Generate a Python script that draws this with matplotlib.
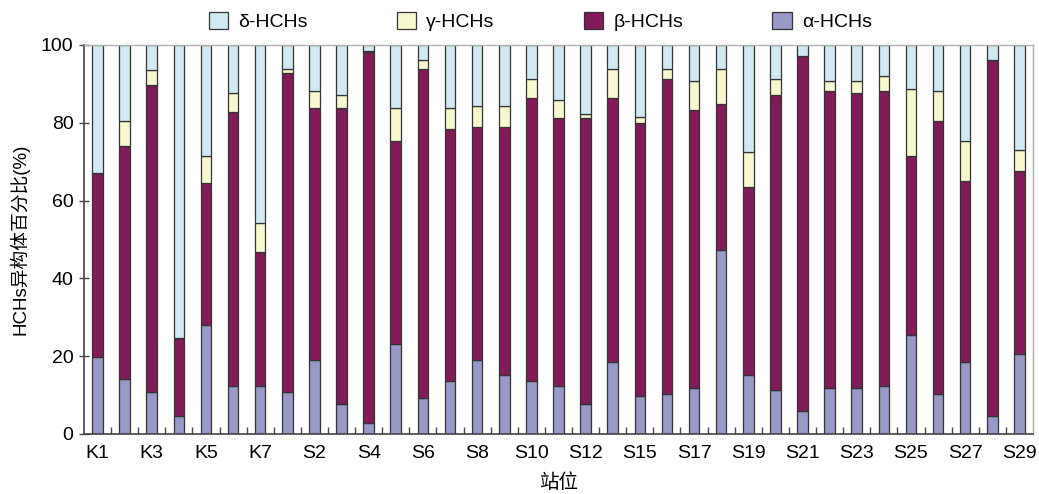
import numpy as np
import matplotlib
matplotlib.use("Agg")
import matplotlib.pyplot as plt

plt.rcParams['font.family'] = ['Liberation Sans', 'Noto Sans CJK SC', 'DejaVu Sans']

stations = ["K1", "K2", "K3", "K4", "K5", "K6", "K7",
            "S1", "S2", "S3", "S4", "S5", "S6", "S7", "S8", "S9", "S10", "S11", "S12",
            "S14", "S15", "S16", "S17", "S18", "S19", "S20", "S21", "S22", "S23",
            "S24", "S25", "S26", "S27", "S28", "S29"]

# isomer shares, %
alpha = [19.9, 14.1, 10.9, 4.5, 28.0, 12.4, 12.4,
         10.9, 18.9, 7.6, 2.7, 23.1, 9.2, 13.5, 18.9, 15.2, 13.5, 12.4, 7.6,
         18.4, 9.8, 10.3, 11.9, 47.3, 15.2, 11.4, 6.0, 11.9, 11.9,
         12.4, 25.4, 10.3, 18.4, 4.5, 20.6]
beta = [47.3, 59.9, 78.8, 20.3, 36.4, 70.3, 34.5,
        82.0, 64.8, 76.1, 95.5, 52.1, 84.7, 64.8, 59.9, 63.6, 72.9, 68.7, 73.5,
        68.0, 70.2, 81.0, 71.3, 37.6, 48.2, 75.7, 91.2, 76.2, 75.7,
        75.7, 46.1, 70.2, 46.6, 91.6, 47.0]
gamma = [0.0, 6.5, 3.8, 0.0, 7.1, 4.9, 7.4,
         1.0, 4.5, 3.4, 0.2, 8.5, 2.2, 5.4, 5.4, 5.4, 4.9, 4.8, 1.2,
         7.5, 1.6, 2.6, 7.5, 9.0, 9.1, 4.2, 0.0, 2.6, 3.1,
         3.8, 17.1, 7.6, 10.2, 0.0, 5.4]
delta = [32.8, 19.5, 6.5, 75.2, 28.5, 12.4, 45.7,
         6.1, 11.8, 12.9, 1.6, 16.3, 3.9, 16.3, 15.8, 15.8, 8.7, 14.1, 17.7,
         6.1, 18.4, 6.1, 9.3, 6.1, 27.5, 8.7, 2.8, 9.3, 9.3,
         8.1, 11.4, 11.9, 24.8, 3.9, 27.0]

series = [("α-HCHs", alpha, "#9898c9"),
          ("β-HCHs", beta, "#821b59"),
          ("γ-HCHs", gamma, "#f8f8cf"),
          ("δ-HCHs", delta, "#d0e9f3")]

fig = plt.figure(figsize=(10.39, 4.94), dpi=100)
ax = fig.add_axes([0.0808, 0.1215, 0.9134, 0.7875])

x = np.arange(len(stations))
bottom = np.zeros(len(stations))
handles = {}
for name, vals, color in series:
    vals = np.array(vals)
    b = ax.bar(x, vals, width=0.39, bottom=bottom, color=color,
               edgecolor="#333333", linewidth=0.9, label=name)
    handles[name] = b
    bottom += vals

ax.set_xlim(-0.5, len(stations) - 0.5)
ax.set_ylim(0, 100)
ax.set_yticks(np.arange(0, 101, 20))
ax.tick_params(axis='y', direction='inout', length=7, width=1,
               color="#444444", labelsize=14, pad=4)
ax.set_xticks(x[::2])
ax.set_xticklabels(stations[::2])
ax.tick_params(axis='x', length=0, labelsize=14, pad=8)
ax.set_xticks(x[:-1] + 0.5, minor=True)
ax.tick_params(axis='x', which='minor', direction='in', length=5,
               width=1, color="#444444")

for side in ("left", "bottom"):
    ax.spines[side].set_color("#444444")
    ax.spines[side].set_linewidth(1.2)
for side in ("top", "right"):
    ax.spines[side].set_color("#b0b0b0")
    ax.spines[side].set_linewidth(1.0)

ax.set_ylabel("HCHs异构体百分比(%)", fontsize=13.5, labelpad=8)
ax.set_xlabel("站位", fontsize=14, labelpad=8)

order = ["δ-HCHs", "γ-HCHs", "β-HCHs", "α-HCHs"]
fig.legend([handles[n] for n in order], order, ncol=4, loc="center",
           bbox_to_anchor=(0.52, 0.957), frameon=False, fontsize=14,
           columnspacing=4.6, handlelength=1.0, handleheight=1.0,
           handletextpad=0.5, borderpad=0.2)

fig.savefig("out.png", dpi=100)
